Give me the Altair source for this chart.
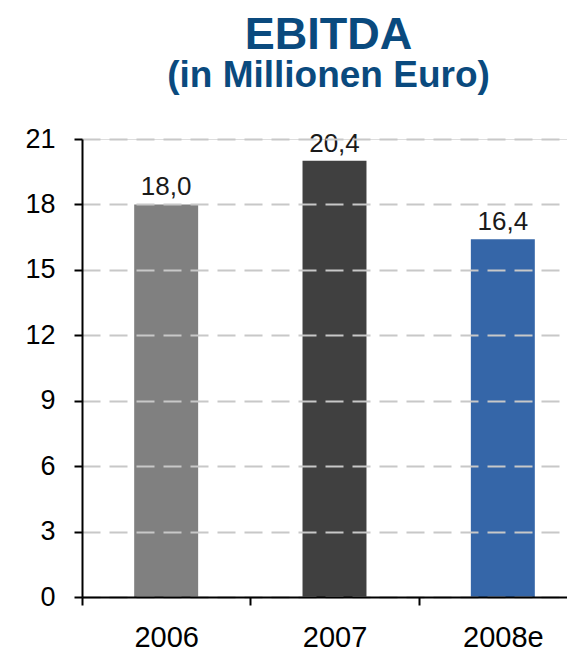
import altair as alt
import pandas as pd

years = ["2006", "2007", "2008e"]
ebitda = [18.0, 20.0, 16.4]
labels = ["18,0", "20,4", "16,4"]
colors = ["#808080", "#404040", "#3566a8"]
y_ticks = [0, 3, 6, 9, 12, 15, 18, 21]

df = pd.DataFrame({"year": years, "value": ebitda, "label": labels})

FONT = "Liberation Sans"

x = alt.X(
    "year:N", sort=years, title=None,
    scale=alt.Scale(range=[0, 505], paddingInner=0, paddingOuter=0),
    axis=alt.Axis(labelAngle=0, labelFontSize=29, labelFont=FONT, labelColor="#000",
                  labelPadding=18, tickBand="extent", tickSize=8, tickColor="#000",
                  tickWidth=2, domainColor="#000", domainWidth=2, grid=False, zindex=2),
)
y = alt.Y(
    "value:Q", title=None,
    scale=alt.Scale(domain=[0, 21], nice=False, zero=True),
    axis=alt.Axis(values=y_ticks, labelFontSize=27, labelFont=FONT, labelColor="#000",
                  labelPadding=19, tickSize=8, tickColor="#000", tickWidth=2,
                  domainColor="#000", domainWidth=2, grid=True, gridColor="#c8c8c8",
                  gridWidth=2, gridDash=[18, 9], zindex=1),
)

bars = alt.Chart(df).mark_bar(width=alt.RelativeBandSize(0.38)).encode(
    x=x, y=y,
    color=alt.Color("year:N", scale=alt.Scale(domain=years, range=colors), legend=None),
)
text = alt.Chart(df).mark_text(dy=-9, baseline="alphabetic", fontSize=26, font=FONT,
                               color="#1a1a1a").encode(
    x=alt.X("year:N", sort=years), y="value:Q", text="label:N")

chart = (bars + text).properties(
    width=485, height=458,
    title=alt.TitleParams(text="EBITDA", subtitle="(in Millionen Euro)", fontSize=45,
                          subtitleFontSize=37, font=FONT, subtitleFont=FONT,
                          fontWeight="bold", subtitleFontWeight="bold",
                          color="#0a4a7e", subtitleColor="#0a4a7e", anchor="middle",
                          offset=31, subtitlePadding=0, dx=4),
    autosize=alt.AutoSizeParams(type="none"),
    padding={"left": 74, "top": 131, "right": 0, "bottom": 56},
).configure_view(stroke=None).configure(background="white")

chart.save("out.html", embed_options={"renderer": "svg", "actions": False})
